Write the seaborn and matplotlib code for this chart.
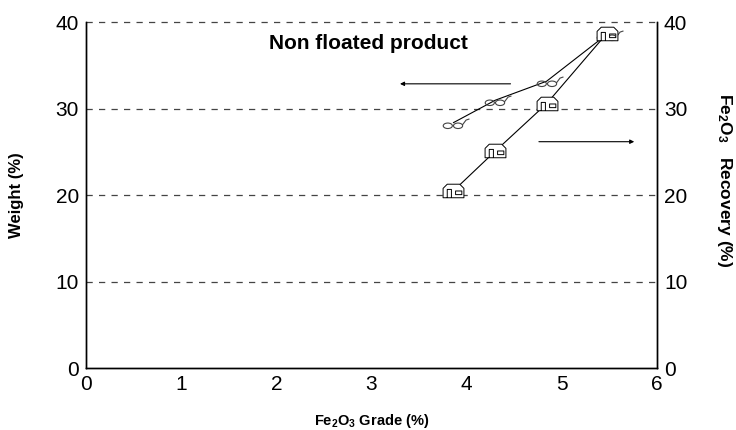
import matplotlib
matplotlib.use("Agg")
import matplotlib.pyplot as plt
from matplotlib.path import Path
import numpy as np
import pandas as pd
import seaborn as sns

# Data
grade = [3.86, 4.30, 4.84, 5.47]          # Fe2O3 grade (%)
weight = [28.4, 31.0, 33.2, 38.6]         # Weight (%)
recovery = [20.5, 25.1, 30.6, 38.7]       # Fe2O3 recovery (%)
yticks = [0, 10, 20, 30, 40]
xticks = [0, 1, 2, 3, 4, 5, 6]

sns.set_theme(style="white")
plt.rcParams['font.family'] = ['Liberation Sans', 'DejaVu Sans']
plt.rcParams['text.color'] = 'black'
plt.rcParams['axes.labelcolor'] = 'black'
plt.rcParams['mathtext.fontset'] = 'custom'
plt.rcParams['mathtext.rm'] = 'Liberation Sans:bold'
plt.rcParams['mathtext.it'] = 'Liberation Sans:bold'
plt.rcParams['mathtext.bf'] = 'Liberation Sans:bold'

df = pd.DataFrame({"grade": grade, "weight": weight, "recovery": recovery})

# custom marker shapes
def glasses_marker():
    circ = Path.circle((0, 0), 0.4)
    l = Path(circ.vertices * [1.0, 0.6] + [-0.5, -0.2], circ.codes)
    r = Path(circ.vertices * [1.0, 0.6] + [0.4, -0.2], circ.codes)
    arm = Path([(0.8, -0.1), (1.1, 0.3), (1.4, 0.4)], [Path.MOVETO, Path.LINETO, Path.LINETO])
    return Path.make_compound_path(l, r, arm)

def mailbox_marker():
    body = Path([(-1, -0.6), (-1, 0.3), (-0.6, 0.7), (0.6, 0.7), (1, 0.3), (1, -0.6), (-1, -0.6)],
                [Path.MOVETO, Path.LINETO, Path.LINETO, Path.LINETO, Path.LINETO, Path.LINETO, Path.CLOSEPOLY])
    door = Path([(-0.6, -0.6), (-0.6, 0.2), (-0.2, 0.2), (-0.2, -0.6)],
                [Path.MOVETO, Path.LINETO, Path.LINETO, Path.LINETO])
    flag = Path([(0.2, -0.3), (0.8, -0.3), (0.8, 0.05), (0.2, 0.05), (0.2, -0.3)],
                [Path.MOVETO, Path.LINETO, Path.LINETO, Path.LINETO, Path.CLOSEPOLY])
    return Path.make_compound_path(body, door, flag)

fig = plt.figure(figsize=(7.36, 4.30), dpi=100)
ax = fig.add_axes([86 / 736, (430 - 368) / 430, (657 - 86) / 736, (368 - 22.5) / 430])

sns.lineplot(data=df, x="grade", y="weight", ax=ax, sort=False, color="black", linewidth=0.8,
             marker=glasses_marker(), markersize=23, markerfacecolor="none",
             markeredgecolor="#444444", markeredgewidth=0.8)
ax2 = ax.twinx()
sns.lineplot(data=df, x="grade", y="recovery", ax=ax2, sort=False, color="black", linewidth=0.8,
             marker=mailbox_marker(), markersize=15, markerfacecolor="white",
             markeredgecolor="black", markeredgewidth=0.7)

for a in (ax, ax2):
    a.set_ylim(0, 40)
    a.set_yticks(yticks)
    a.tick_params(axis="y", labelsize=15, length=0, pad=5, labelcolor="black")
    a.grid(False)
for yv in yticks[1:]:
    ax.axhline(yv, color="#444444", linestyle=(0, (5, 5)), linewidth=0.9, zorder=0, clip_on=False)

ax.set_xlim(0, 6)
ax.set_xticks(xticks)
ax.tick_params(axis="x", labelsize=15, length=0, pad=5, labelcolor="black")

for a in (ax, ax2):
    a.spines["top"].set_visible(False)
    for s in ("left", "right", "bottom"):
        a.spines[s].set_color("black")
        a.spines[s].set_linewidth(1.0)

ax.set_xlabel("Fe$_2$O$_3$ Grade (%)", fontsize=10.5, fontweight="bold")
ax.xaxis.set_label_coords(0.5, -0.128)
ax.set_ylabel("Weight (%)", fontsize=12, fontweight="bold")
ax.yaxis.set_label_coords(-0.108, 0.5)
ax2.set_ylabel("Fe$_2$O$_3$   Recovery (%)", fontsize=12.5, fontweight="bold", rotation=-90, va="center")
ax2.yaxis.set_label_coords(1.118, 0.544)

ax.text(2.97, 37.6, "Non floated product", fontsize=15, fontweight="bold", ha="center", va="center")

ax.annotate("", xy=(3.27, 32.9), xytext=(4.49, 32.9),
            arrowprops=dict(arrowstyle="-|>", color="black", lw=0.8, mutation_scale=6))
ax.annotate("", xy=(5.79, 26.2), xytext=(4.73, 26.2),
            arrowprops=dict(arrowstyle="-|>", color="black", lw=0.8, mutation_scale=6))

fig.savefig("out.png", dpi=100)
